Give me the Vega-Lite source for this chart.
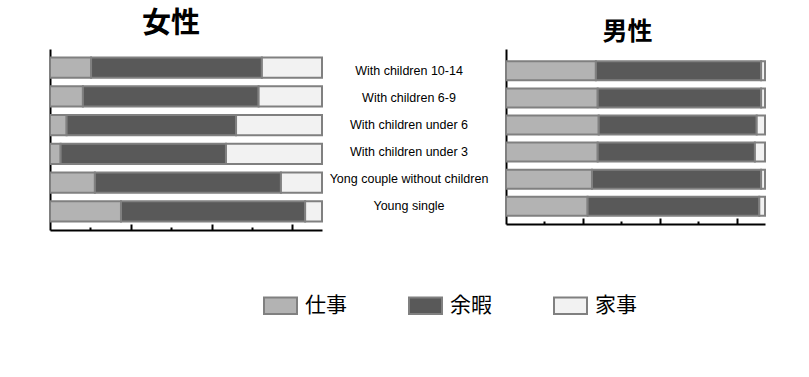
{
  "$schema": "https://vega.github.io/schema/vega-lite/v6.json",
  "padding": {"left": 49, "top": 10, "right": 10, "bottom": 5},
  "bounds": "flush",
  "spacing": 184,
  "background": "white",
  "config": {"view": {"stroke": null}, "axis": {"grid": false}},
  "data": {"values": [
    {"sex": "女性", "group": "With children 10-14", "activity": "仕事", "value": 15.1},
    {"sex": "女性", "group": "With children 10-14", "activity": "余暇", "value": 62.8},
    {"sex": "女性", "group": "With children 10-14", "activity": "家事", "value": 22.1},
    {"sex": "女性", "group": "With children 6-9", "activity": "仕事", "value": 12.1},
    {"sex": "女性", "group": "With children 6-9", "activity": "余暇", "value": 64.6},
    {"sex": "女性", "group": "With children 6-9", "activity": "家事", "value": 23.3},
    {"sex": "女性", "group": "With children under 6", "activity": "仕事", "value": 6.1},
    {"sex": "女性", "group": "With children under 6", "activity": "余暇", "value": 62.3},
    {"sex": "女性", "group": "With children under 6", "activity": "家事", "value": 31.6},
    {"sex": "女性", "group": "With children under 3", "activity": "仕事", "value": 3.9},
    {"sex": "女性", "group": "With children under 3", "activity": "余暇", "value": 60.8},
    {"sex": "女性", "group": "With children under 3", "activity": "家事", "value": 35.3},
    {"sex": "女性", "group": "Yong couple without children", "activity": "仕事", "value": 16.5},
    {"sex": "女性", "group": "Yong couple without children", "activity": "余暇", "value": 68.4},
    {"sex": "女性", "group": "Yong couple without children", "activity": "家事", "value": 15.1},
    {"sex": "女性", "group": "Young single", "activity": "仕事", "value": 26.1},
    {"sex": "女性", "group": "Young single", "activity": "余暇", "value": 67.7},
    {"sex": "女性", "group": "Young single", "activity": "家事", "value": 6.2},
    {"sex": "男性", "group": "With children 10-14", "activity": "仕事", "value": 34.7},
    {"sex": "男性", "group": "With children 10-14", "activity": "余暇", "value": 63.8},
    {"sex": "男性", "group": "With children 10-14", "activity": "家事", "value": 1.5},
    {"sex": "男性", "group": "With children 6-9", "activity": "仕事", "value": 35.4},
    {"sex": "男性", "group": "With children 6-9", "activity": "余暇", "value": 63.1},
    {"sex": "男性", "group": "With children 6-9", "activity": "家事", "value": 1.5},
    {"sex": "男性", "group": "With children under 6", "activity": "仕事", "value": 35.8},
    {"sex": "男性", "group": "With children under 6", "activity": "余暇", "value": 61.0},
    {"sex": "男性", "group": "With children under 6", "activity": "家事", "value": 3.2},
    {"sex": "男性", "group": "With children under 3", "activity": "仕事", "value": 35.4},
    {"sex": "男性", "group": "With children under 3", "activity": "余暇", "value": 60.7},
    {"sex": "男性", "group": "With children under 3", "activity": "家事", "value": 3.9},
    {"sex": "男性", "group": "Yong couple without children", "activity": "仕事", "value": 33.2},
    {"sex": "男性", "group": "Yong couple without children", "activity": "余暇", "value": 65.3},
    {"sex": "男性", "group": "Yong couple without children", "activity": "家事", "value": 1.5},
    {"sex": "男性", "group": "Young single", "activity": "仕事", "value": 31.5},
    {"sex": "男性", "group": "Young single", "activity": "余暇", "value": 66.3},
    {"sex": "男性", "group": "Young single", "activity": "家事", "value": 2.2}
  ]},
  "hconcat": [
    {
      "width": 272,
      "height": 181,
      "title": {"text": "女性", "font": "Noto Sans CJK JP", "fontSize": 29, "fontWeight": "bold", "color": "black", "dx": -15, "offset": 10},
      "transform": [{"filter": "datum.sex === '女性'"}],
      "mark": {"type": "bar", "stroke": "#808080", "strokeWidth": 2},
      "encoding": {
        "y": {
          "field": "group", "type": "nominal",
          "sort": ["With children 10-14", "With children 6-9", "With children under 6", "With children under 3", "Yong couple without children", "Young single"],
          "scale": {"paddingInner": 0.3, "paddingOuter": 0.3},
          "axis": {"title": null, "labels": false, "ticks": false, "domainColor": "black", "domainWidth": 2}
        },
        "x": {
          "field": "value", "type": "quantitative", "stack": "normalize",
          "scale": {"domain": [0, 1], "nice": false},
          "axis": {
            "title": null, "labels": false,
            "values": [0.1485, 0.297, 0.4455, 0.594, 0.7425, 0.891],
            "tickSize": {"condition": {"test": "indexof([0.297, 0.594, 0.891], datum.value) >= 0", "value": -6}, "value": -3},
            "tickColor": "black", "tickWidth": 2, "domainColor": "black", "domainWidth": 2
          }
        },
        "color": {
          "field": "activity", "type": "nominal",
          "scale": {"domain": ["仕事", "余暇", "家事"], "range": ["#b3b3b3", "#595959", "#f2f2f2"]},
          "legend": {
            "title": null, "orient": "none", "legendX": 213, "legendY": 239, "direction": "horizontal",
            "symbolType": "M-1,-0.5h2v1h-2z", "symbolSize": 1089, "symbolStrokeColor": "#808080", "symbolStrokeWidth": 2,
            "labelFont": "Noto Sans CJK JP", "labelFontSize": 21, "labelColor": "black", "labelOffset": 7,
            "columnPadding": 58, "padding": 0
          }
        }
      }
    },
    {
      "width": 259,
      "height": 175,
      "title": {"text": "男性", "font": "Noto Sans CJK JP", "fontSize": 25, "fontWeight": "bold", "color": "black", "dx": -8, "offset": 4},
      "transform": [{"filter": "datum.sex === '男性'"}],
      "mark": {"type": "bar", "stroke": "#808080", "strokeWidth": 2},
      "encoding": {
        "y": {
          "field": "group", "type": "nominal",
          "sort": ["With children 10-14", "With children 6-9", "With children under 6", "With children under 3", "Yong couple without children", "Young single"],
          "scale": {"paddingInner": 0.3, "paddingOuter": 0.38, "align": 0.6},
          "axis": {"title": null, "labelAlign": "center", "labelPadding": 101.5, "labelLimit": 0,
            "labelFont": "Liberation Sans", "labelFontSize": 12.5, "labelColor": "black",
            "tickSize": -4, "tickColor": "black", "tickWidth": 2, "domainColor": "black", "domainWidth": 2}
        },
        "x": {
          "field": "value", "type": "quantitative", "stack": "normalize",
          "scale": {"domain": [0, 1], "nice": false},
          "axis": {
            "title": null, "labels": false,
            "values": [0.1485, 0.297, 0.4455, 0.594, 0.7425, 0.891],
            "tickSize": {"condition": {"test": "indexof([0.297, 0.594, 0.891], datum.value) >= 0", "value": -6}, "value": -3},
            "tickColor": "black", "tickWidth": 2, "domainColor": "black", "domainWidth": 2
          }
        },
        "color": {
          "field": "activity", "type": "nominal",
          "scale": {"domain": ["仕事", "余暇", "家事"], "range": ["#b3b3b3", "#595959", "#f2f2f2"]},
          "legend": {
            "title": null, "orient": "none", "legendX": 213, "legendY": 239, "direction": "horizontal",
            "symbolType": "M-1,-0.5h2v1h-2z", "symbolSize": 1089, "symbolStrokeColor": "#808080", "symbolStrokeWidth": 2,
            "labelFont": "Noto Sans CJK JP", "labelFontSize": 21, "labelColor": "black", "labelOffset": 7,
            "columnPadding": 58, "padding": 0
          }
        }
      }
    }
  ]
}
